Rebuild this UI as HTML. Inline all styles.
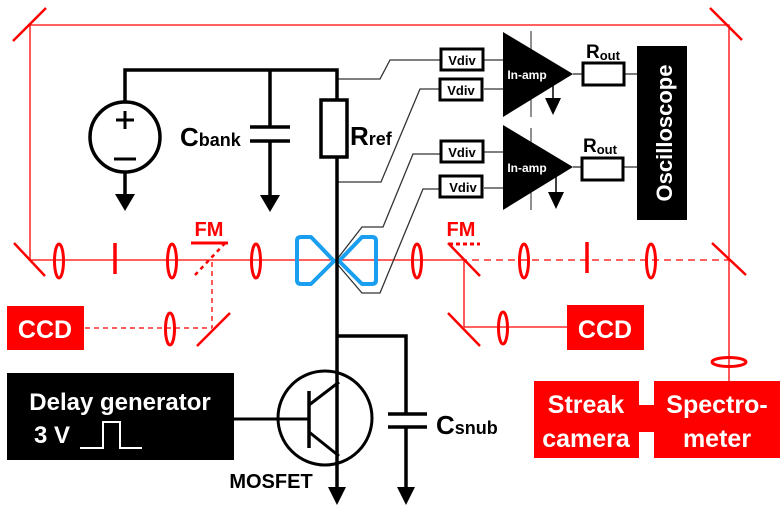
<!DOCTYPE html>
<html><head><meta charset="utf-8"><style>
html,body{margin:0;padding:0;background:#fff;}
svg{display:block;font-family:"Liberation Sans",Arial,sans-serif;font-weight:bold;}
</style></head><body>
<svg width="780" height="515" viewBox="0 0 780 515" xmlns="http://www.w3.org/2000/svg">
<g stroke="#f00" fill="none" stroke-width="1.3">
<polyline points="30,260 30,25 729,25 729,382"/>
<line x1="30" y1="260" x2="460" y2="260"/>
<line x1="460" y1="260" x2="729" y2="260" stroke-dasharray="7,5"/>
<line x1="464" y1="260" x2="464" y2="327"/>
<line x1="464" y1="327" x2="567" y2="327"/>
<line x1="212" y1="262" x2="212" y2="328" stroke-dasharray="5,4"/>
<line x1="85" y1="328" x2="212" y2="328" stroke-dasharray="5,4"/>
</g>
<g stroke="#f00" fill="none" stroke-width="2.5">
<line x1="13" y1="41" x2="46" y2="8"/>
<line x1="710" y1="8" x2="742" y2="40"/>
<line x1="14" y1="243" x2="45" y2="276"/>
<line x1="712" y1="243" x2="746" y2="275"/>
<line x1="448" y1="243" x2="480" y2="276"/>
<line x1="448" y1="313" x2="480" y2="346"/>
<line x1="197" y1="346" x2="230" y2="313"/>
<line x1="195" y1="275" x2="228" y2="240" stroke-dasharray="4,4"/>
<line x1="191" y1="243" x2="228" y2="243" stroke-width="3"/>
<line x1="449" y1="244" x2="480" y2="244" stroke-width="3" stroke-dasharray="4,3"/>
<g stroke-width="3">
<ellipse cx="59" cy="261" rx="4.5" ry="17"/>
<ellipse cx="172" cy="261" rx="4.5" ry="17"/>
<ellipse cx="256" cy="261" rx="4.5" ry="17"/>
<ellipse cx="417" cy="261" rx="4.5" ry="17"/>
<ellipse cx="524" cy="261" rx="4.5" ry="17"/>
<ellipse cx="651" cy="261" rx="4.5" ry="17"/>
<ellipse cx="170" cy="329" rx="4.5" ry="16"/>
<ellipse cx="503" cy="328" rx="4.5" ry="16"/>
<ellipse cx="729" cy="362" rx="17" ry="4.5"/>
</g>
<line x1="115" y1="243" x2="115" y2="274" stroke-width="3.5"/>
<line x1="587" y1="242" x2="587" y2="273" stroke-width="3.5"/>
</g>
<g fill="#f00" font-size="20" text-anchor="middle">
<text x="209" y="236">FM</text>
<text x="461" y="236">FM</text>
</g>
<rect x="7" y="306" width="77" height="44" fill="#f00"/>
<rect x="567" y="305" width="77" height="45" fill="#f00"/>
<rect x="534" y="381" width="105" height="77" fill="#f00"/>
<rect x="654" y="381" width="126" height="77" fill="#f00"/>
<rect x="639" y="405" width="15" height="27" fill="#f00"/>
<g fill="#fff" font-size="25" text-anchor="middle">
<text x="45" y="338">CCD</text>
<text x="605" y="338">CCD</text>
<text x="586" y="413">Streak</text>
<text x="586" y="447">camera</text>
<text x="717" y="413">Spectro-</text>
<text x="717" y="447">meter</text>
</g>
<g stroke="#1a9ff0" stroke-width="4" fill="none" stroke-linejoin="round">
<path d="M301,237 L311,237 L334,261 L311,284 L301,284 Q297,284 297,280 L297,241 Q297,237 301,237 Z"/>
<path d="M372,237 L362,237 L339,261 L362,284 L372,284 Q376,284 376,280 L376,241 Q376,237 372,237 Z"/>
</g>
<g stroke="#333" stroke-width="1.3" fill="none">
<polyline points="337,79 380,79 390,60 440,60"/>
<polyline points="337,182 381,182 420,89 440,89"/>
<polyline points="338,258 362,227 383,227 413,154 440,154"/>
<polyline points="338,265 362,293 380,293 423,189 440,189"/>
<line x1="484" y1="60" x2="503" y2="60"/>
<line x1="484" y1="89" x2="503" y2="89"/>
<line x1="484" y1="152" x2="503" y2="152"/>
<line x1="484" y1="188" x2="503" y2="188"/>
<line x1="531" y1="31" x2="531" y2="117" stroke="#555"/>
<line x1="531" y1="128" x2="531" y2="210" stroke="#555"/>
<line x1="573" y1="74" x2="582" y2="74"/>
<line x1="625" y1="74" x2="637" y2="74"/>
<line x1="573" y1="167" x2="581" y2="167"/>
<line x1="624" y1="167" x2="637" y2="167"/>
</g>
<g stroke="#000" stroke-width="3" fill="#fff">
<rect x="441" y="49" width="42" height="21"/>
<rect x="440" y="79" width="42" height="21"/>
<rect x="441" y="141" width="42" height="21"/>
<rect x="440" y="176" width="42" height="21"/>
<rect x="583" y="63" width="41" height="22"/>
<rect x="582" y="158" width="41" height="22"/>
</g>
<g font-size="13" text-anchor="middle">
<text x="462" y="65">Vdiv</text>
<text x="461" y="95">Vdiv</text>
<text x="462" y="157">Vdiv</text>
<text x="463" y="192">Vdiv</text>
</g>
<g font-size="19">
<text x="586" y="58">R<tspan font-size="13" dy="2">out</tspan></text>
<text x="583" y="152">R<tspan font-size="13" dy="2">out</tspan></text>
</g>
<polygon points="503,32 503,117 573,74" fill="#000"/>
<polygon points="503,125 503,210 573,167" fill="#000"/>
<g fill="#fff" font-size="12" text-anchor="middle">
<text x="527" y="79">In-amp</text>
<text x="527" y="172">In-amp</text>
</g>
<g stroke="#000" stroke-width="1.5"><line x1="553" y1="74" x2="553" y2="99"/><line x1="556" y1="167" x2="556" y2="193"/></g>
<polygon points="545,98 561,98 553,115" fill="#000"/>
<polygon points="548,192 564,192 556,209" fill="#000"/>
<rect x="637" y="46" width="50" height="174" fill="#000"/>
<text transform="translate(672,133) rotate(-90)" fill="#fff" font-size="22" text-anchor="middle">Oscilloscope</text>
<g stroke="#000" stroke-width="3.5" fill="none">
<polyline points="125,102 125,70 337,70 337,488"/>
<circle cx="125" cy="137" r="35"/>
<line x1="125" y1="172" x2="125" y2="196"/>
<line x1="270" y1="70" x2="270" y2="126"/>
<line x1="250" y1="127" x2="290" y2="127"/>
<line x1="250" y1="141" x2="290" y2="141"/>
<line x1="270" y1="141" x2="270" y2="197"/>
<polyline points="337,336 406,336 406,413"/>
<line x1="388" y1="414" x2="427" y2="414"/>
<line x1="388" y1="427" x2="427" y2="427"/>
<line x1="406" y1="427" x2="406" y2="489"/>
<circle cx="325" cy="418" r="47" stroke-width="3"/>
<line x1="309" y1="391" x2="309" y2="448"/>
<line x1="234" y1="419" x2="309" y2="419" stroke-width="3"/>
<line x1="309" y1="405" x2="339" y2="382" stroke-width="3"/>
<line x1="309" y1="432" x2="339" y2="456" stroke-width="3"/>
</g>
<rect x="321" y="100" width="26" height="57" fill="#fff" stroke="#000" stroke-width="3.5"/>
<g stroke="#000" stroke-width="3"><line x1="116" y1="120" x2="134" y2="120"/><line x1="125" y1="111" x2="125" y2="129"/><line x1="114" y1="159" x2="136" y2="159"/></g>
<polygon points="115,194 135,194 125,211" fill="#000"/>
<polygon points="260,195 280,195 270,212" fill="#000"/>
<polygon points="328,487 346,487 337,505" fill="#000"/>
<polygon points="397,487 415,487 406,505" fill="#000"/>
<g font-size="26">
<text x="180" y="146">C<tspan font-size="18">bank</tspan></text>
<text x="350" y="145">R<tspan font-size="18">ref</tspan></text>
<text x="436" y="434">C<tspan font-size="18">snub</tspan></text>
</g>
<text x="271" y="488" font-size="20" text-anchor="middle">MOSFET</text>
<rect x="7" y="373" width="227" height="87" fill="#000"/>
<text x="120" y="410" fill="#fff" font-size="24" text-anchor="middle">Delay generator</text>
<text x="34" y="443" fill="#fff" font-size="24">3 V</text>
<polyline points="80,448 103,448 103,422 120,422 120,448 142,448" stroke="#fff" stroke-width="2" fill="none"/>
</svg>
</body></html>
